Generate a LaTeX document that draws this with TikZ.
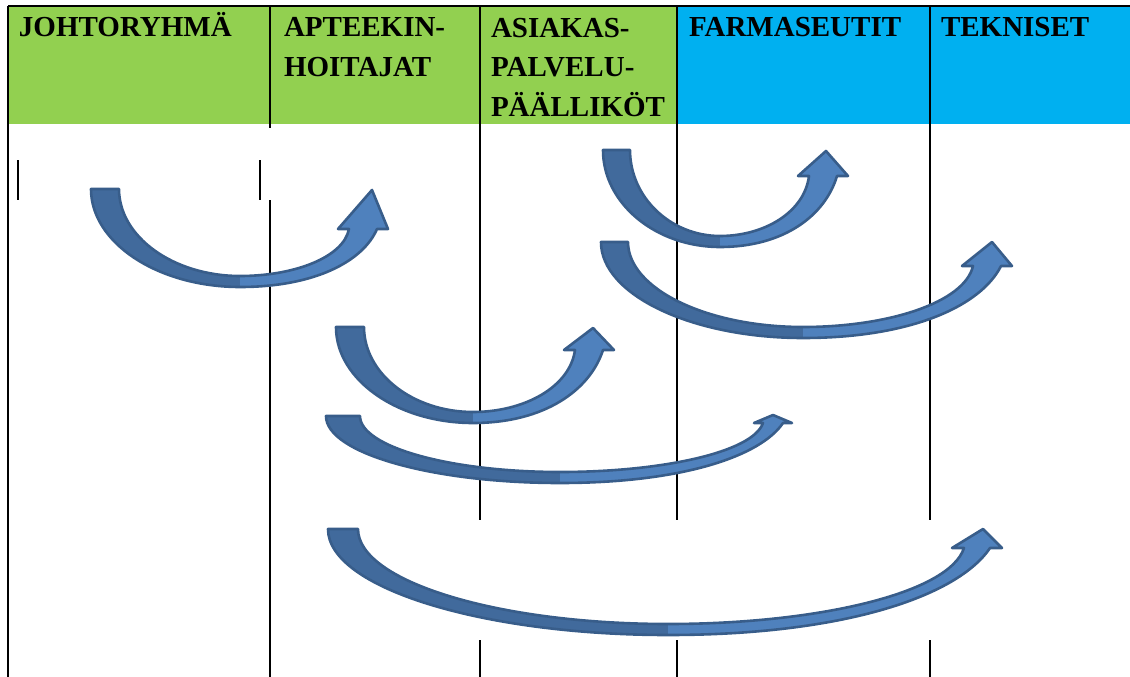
\documentclass[tikz,border=0pt]{standalone}
\usepackage{fontspec}
\setmainfont{Liberation Serif}
\usetikzlibrary{positioning}

\definecolor{headgreen}{HTML}{92D050}
\definecolor{headblue}{HTML}{00B0F0}
\definecolor{bandlight}{HTML}{4F81BD}
\definecolor{banddark}{HTML}{416A9C}
\definecolor{bandrim}{HTML}{385D8A}

\begin{document}
\begin{tikzpicture}[x=1pt, y=-1pt, line width=2pt,
    head/.style={anchor=base west, inner sep=0pt, align=left,
        font=\fontsize{29}{40}\selectfont\bfseries},
    rim/.style={draw=bandrim, line width=2.6pt, line join=round}]
    \useasboundingbox (0,0) rectangle (1130,677);

    % header row
    \fill[headgreen] (8,6) rectangle (677,124);
    \fill[headblue] (677,6) rectangle (1130,124);
    \draw (8,6) -- (1130,6);
    \node[head] (johto) at (18,37) {JOHTORYHMÄ};
    \node[head] (hoitajat) at (283,77) {APTEEKIN-\\HOITAJAT};
    \node[head] (asiakas) at (490,117) {ASIAKAS-\\PALVELU-\\PÄÄLLIKÖT};
    \node[head] (farma) at (688,37) {FARMASEUTIT};
    \node[head] (tekn) at (940,37) {TEKNISET};

    % column lines
    \draw (8,6) -- (8,677);
    \draw (270,6) -- (270,128) (270,200) -- (270,677);
    \draw (18,160) -- (18,200) (260,160) -- (260,200);
    \foreach \x in {480,677,930}
        \draw (\x,6) -- (\x,520) (\x,640) -- (\x,677);

    % curved arrows
    \foreach \xl/\yt/\tw/\xm/\yb/\xc/\yh/\xt/\ytip/\hw/\sw in {
        91/189/28/240/287/363/229/372/190/25/14,
        603/150/27/720/247/823/176/826/151/25/14,
        601/242/27/803/338/987/266/992/242/25/14,
        336/327/28/473/423/589/350/593/328/25/14,
        326/416/34/560/483/773/423/773/415/19/10,
        328/529/30/668/635/977/548/983/529/25/13} {
        \pgfmathsetmacro\xo{\xc+\sw}
        \pgfmathsetmacro\xi{\xc-\sw}
        \pgfmathsetmacro\yi{\yb-11}
        \fill[banddark] (\xl,\yt) .. controls (\xl,{\yt+0.55*(\yb-\yt)}) and ({\xm-0.55*(\xm-\xl)},\yb) .. (\xm,\yb)
            -- (\xm,\yi) .. controls ({\xm-0.55*(\xm-\xl-\tw)},\yi) and ({\xl+\tw},{\yt+0.55*(\yi-\yt)}) .. ({\xl+\tw},\yt) -- cycle;
        \fill[bandlight] (\xm,\yb) .. controls ({\xm+0.55*(\xo-\xm)},\yb) and ({\xo-0.1*(\xo-\xm)},{\yh+0.55*(\yb-\yh)}) .. (\xo,\yh)
            -- ({\xc+\hw},\yh) -- (\xt,\ytip) -- ({\xc-\hw},\yh) -- (\xi,\yh)
            .. controls ({\xi-0.05*(\xi-\xm)},{\yh+0.6*(\yi-\yh)}) and ({\xm+0.5*(\xi-\xm)},\yi) .. (\xm,\yi) -- cycle;
        \draw[rim] (\xl,\yt) .. controls (\xl,{\yt+0.55*(\yb-\yt)}) and ({\xm-0.55*(\xm-\xl)},\yb) .. (\xm,\yb)
            .. controls ({\xm+0.55*(\xo-\xm)},\yb) and ({\xo-0.1*(\xo-\xm)},{\yh+0.55*(\yb-\yh)}) .. (\xo,\yh)
            -- ({\xc+\hw},\yh) -- (\xt,\ytip) -- ({\xc-\hw},\yh) -- (\xi,\yh)
            .. controls ({\xi-0.05*(\xi-\xm)},{\yh+0.6*(\yi-\yh)}) and ({\xm+0.5*(\xi-\xm)},\yi) .. (\xm,\yi)
            .. controls ({\xm-0.55*(\xm-\xl-\tw)},\yi) and ({\xl+\tw},{\yt+0.55*(\yi-\yt)}) .. ({\xl+\tw},\yt) -- cycle;
    }
\end{tikzpicture}
\end{document}
